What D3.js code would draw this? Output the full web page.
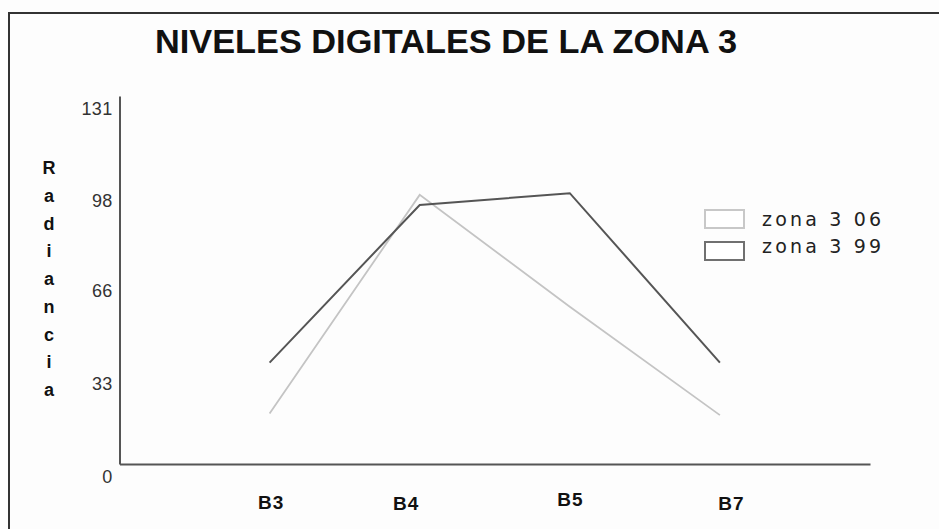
<!DOCTYPE html>
<html>
<head>
<meta charset="utf-8">
<script src="https://cdn.jsdelivr.net/npm/d3@7"></script>
<style>
  body { margin: 0; background: #fdfdfd; }
  text { font-family: "Liberation Sans", Arial, sans-serif; }
</style>
</head>
<body>
<div id="vis"></div>
<script>
// data
var bands = ["B3", "B4", "B5", "B7"];
var zona306 = [18, 95.8, 56, 17.4];
var zona399 = [36.1, 92.2, 96.4, 36.1];
var seriesNames = ["zona 3 06", "zona 3 99"];
var yTicks = [0, 33, 66, 98, 131];
var axisLetters = "Radiancia".split("");

// SVG geometry
var width = 939,
  height = 529;
var x0 = 119.5, x1 = 870,
  yTop = 96, yBot = 464;

// label nudges (the original has them slightly off)
var labelDx = [1, -14, 0, 11],
  labelDy = [0, 1, -3, 1];

var svg = d3.select("#vis")
  .append("svg")
  .attr("width", width)
  .attr("height", height);

svg.append("rect")
  .attr("width", width).attr("height", height)
  .attr("fill", "#fdfdfd");

// outer frame
svg.append("rect")
  .attr("x", 9).attr("y", 13)
  .attr("width", 960).attr("height", 560)
  .attr("fill", "none")
  .attr("stroke", "#333")
  .attr("stroke-width", 2);

svg.append("text")
  .attr("x", 446).attr("y", 53)
  .attr("text-anchor", "middle")
  .attr("font-size", 33)
  .attr("font-weight", "bold")
  .attr("textLength", 582)
  .attr("lengthAdjust", "spacingAndGlyphs")
  .attr("fill", "#111")
  .text("NIVELES DIGITALES DE LA ZONA 3");

var x = d3.scalePoint()
  .domain(bands)
  .range([x0, x1])
  .padding(1);

var y = d3.scaleLinear()
  .domain([0, 131])
  .range([yBot, yTop]);

// y axis
var yAxis = svg.append("g")
  .attr("transform", "translate(" + x0 + ",0)")
  .call(d3.axisLeft(y).tickValues(yTicks).tickSize(0).tickPadding(7));
yAxis.select(".domain").attr("stroke", "#555").attr("stroke-width", 2);
yAxis.selectAll("text")
  .attr("dy", "1em")
  .attr("font-size", 18)
  .attr("letter-spacing", 0.3)
  .attr("fill", "#333");

// x axis
var xAxis = svg.append("g")
  .attr("transform", "translate(0," + yBot + ")")
  .call(d3.axisBottom(x).tickSize(0).tickPadding(33));
xAxis.select(".domain").attr("stroke", "#555").attr("stroke-width", 2);
xAxis.selectAll("text")
  .attr("font-size", 19)
  .attr("font-weight", "bold")
  .attr("letter-spacing", 1)
  .attr("fill", "#111")
  .attr("dx", function(d, i) { return labelDx[i]; })
  .attr("dy", function(d, i) { return (labelDy[i] + 12) + "px"; });

// stacked y label
svg.append("g")
  .selectAll("text")
  .data(axisLetters)
  .enter().append("text")
  .attr("x", 49)
  .attr("y", function(d, i) { return 174 + i * 27.75; })
  .attr("text-anchor", "middle")
  .attr("font-size", 18)
  .attr("font-weight", "bold")
  .attr("fill", "#111")
  .text(function(d) { return d; });

// lines
var line = d3.line()
  .x(function(d, i) { return x(bands[i]); })
  .y(function(d) { return y(d); });

svg.append("path")
  .datum(zona306)
  .attr("fill", "none")
  .attr("stroke", "#c4c4c4")
  .attr("stroke-width", 1.8)
  .attr("d", line);

svg.append("path")
  .datum(zona399)
  .attr("fill", "none")
  .attr("stroke", "#555")
  .attr("stroke-width", 2)
  .attr("d", line);

// legend
var legColors = ["#c8c8c8", "#707070"];
var leg = svg.append("g")
  .selectAll("g")
  .data(seriesNames)
  .enter().append("g")
  .attr("transform", function(d, i) { return "translate(705," + (210 + i * 32) + ")"; });

leg.append("rect")
  .attr("width", 39).attr("height", 18)
  .attr("fill", "#fff")
  .attr("stroke", function(d, i) { return legColors[i]; })
  .attr("stroke-width", 2);

leg.append("text")
  .attr("x", 57)
  .attr("y", function(d, i) { return 16 - i * 5; })
  .attr("font-size", 19)
  .style("font-family", "'DejaVu Sans', sans-serif")
  .attr("textLength", 119)
  .attr("lengthAdjust", "spacing")
  .attr("fill", "#222")
  .text(function(d) { return d; });
</script>
</body>
</html>
